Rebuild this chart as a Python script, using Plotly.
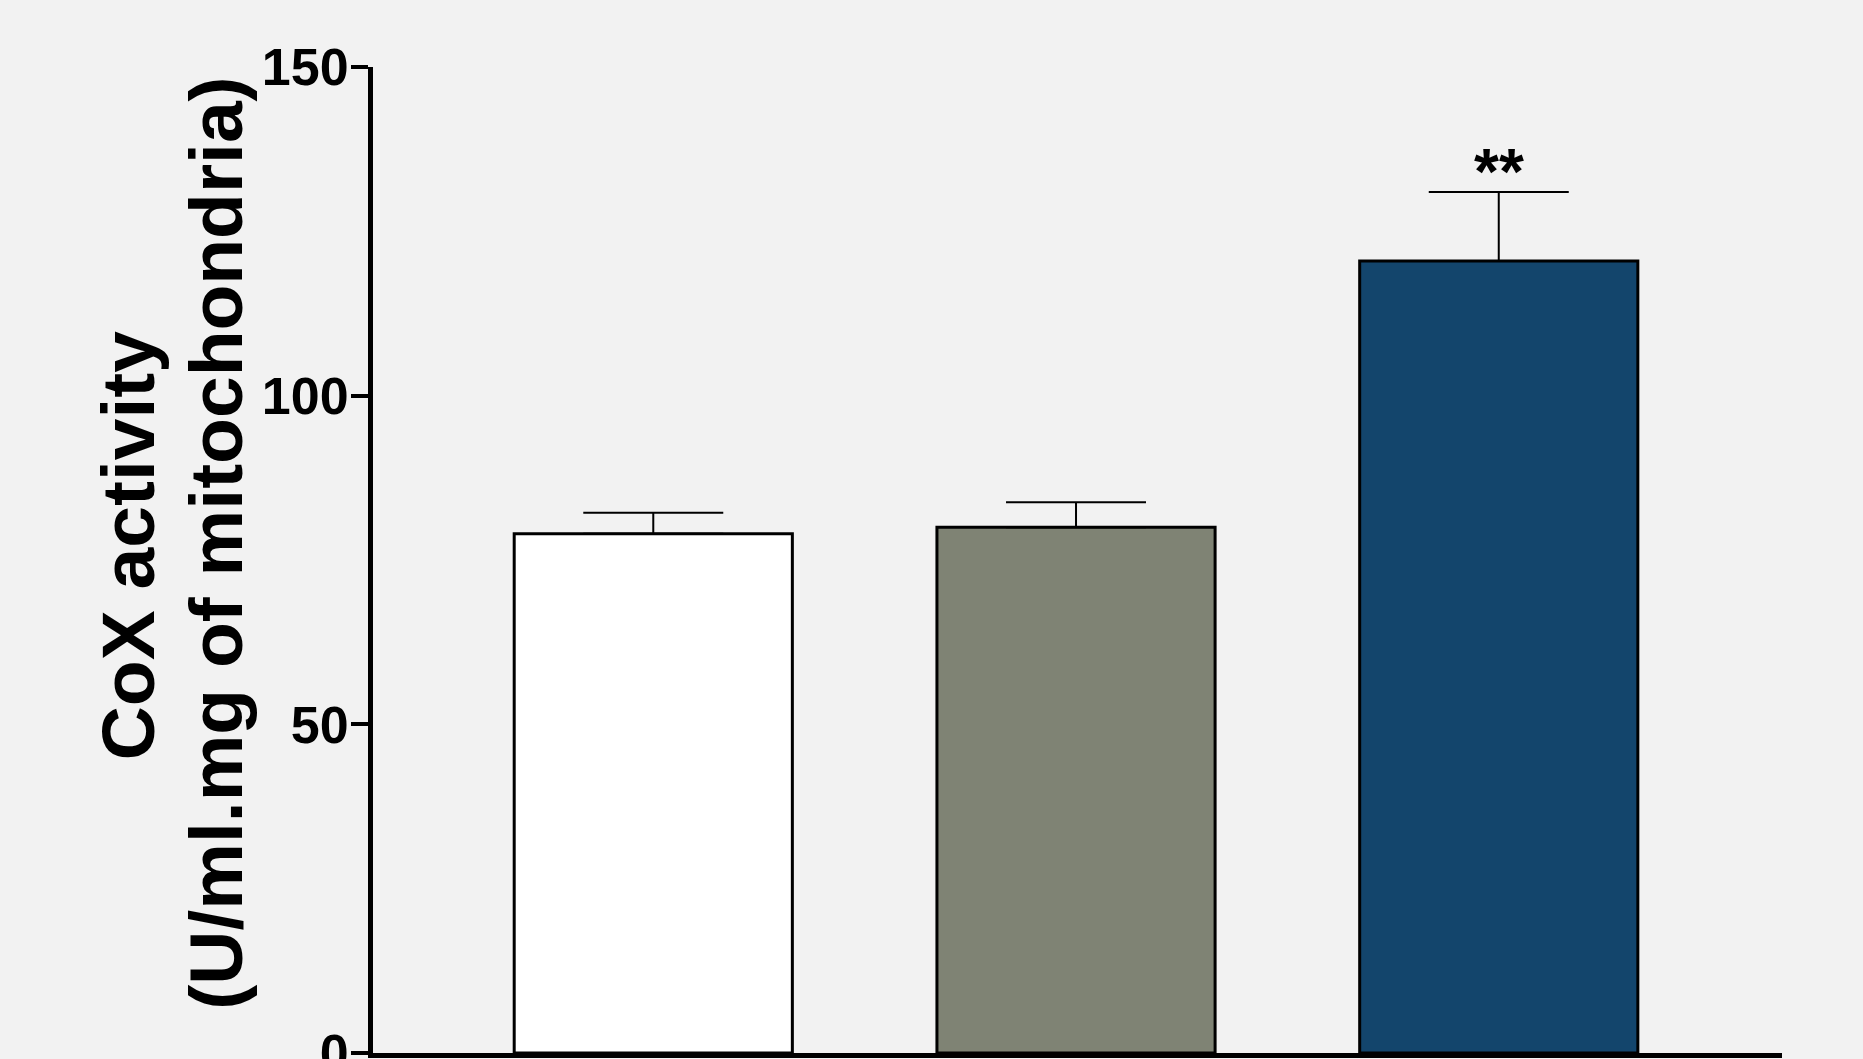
import plotly.graph_objects as go

groups = ["Group 1", "Group 2", "Group 3"]
means = [79.0, 80.0, 120.5]
sems = [3.2, 3.8, 10.5]
bar_colors = ["#FFFFFF", "#7F8374", "#13456C"]
sig_labels = ["", "", "**"]
y_ticks = [0, 50, 100, 150]
title_line1 = "CoX activity"
title_line2 = "(U/ml.mg of mitochondria)"

FONT = "Arial, Liberation Sans, sans-serif"

fig = go.Figure()
fig.add_trace(go.Bar(
    x=list(range(len(groups))),
    y=means,
    width=0.658,
    marker=dict(color=bar_colors, line=dict(color="black", width=3)),
    error_y=dict(type="data", symmetric=False, array=sems,
                 arrayminus=[0] * len(sems), color="black",
                 thickness=2, width=70),
    hoverinfo="skip",
))

for i, (m, s, lab) in enumerate(zip(means, sems, sig_labels)):
    if lab:
        fig.add_annotation(x=i, y=m + s, yshift=20, text=f"<b>{lab}</b>",
                           showarrow=False, xanchor="center", yanchor="middle",
                           font=dict(family=FONT, size=64, color="black"))

fig.add_annotation(xref="paper", yref="paper", x=-0.1738, y=0.515,
                   text=f"<b>{title_line1}</b>", textangle=-90, showarrow=False,
                   xanchor="center", yanchor="middle",
                   font=dict(family=FONT, size=75, color="black"))
fig.add_annotation(xref="paper", yref="paper", x=-0.1111, y=0.517,
                   text=f"<b>{title_line2}</b>", textangle=-90, showarrow=False,
                   xanchor="center", yanchor="middle",
                   font=dict(family=FONT, size=75, color="black"))

fig.update_layout(
    width=1863, height=1059,
    margin=dict(l=373, r=81, t=67, b=6, pad=0, autoexpand=False),
    paper_bgcolor="#F2F2F2", plot_bgcolor="#F2F2F2",
    showlegend=False,
    font=dict(family=FONT, color="black"),
)
fig.update_xaxes(range=[-0.663, 2.670], showticklabels=False, ticks="",
                 showgrid=False, zeroline=False, showline=True,
                 linecolor="black", linewidth=5, automargin=False)
fig.update_yaxes(range=[0, 150], tickvals=y_ticks,
                 ticktext=[f"<b>{v}</b>" for v in y_ticks],
                 ticks="outside", ticklen=17, tickwidth=4, tickcolor="black",
                 tickfont=dict(family=FONT, size=52, color="black"),
                 ticklabelstandoff=-8, ticklabeloverflow="allow",
                 showgrid=False, zeroline=False, showline=True,
                 linecolor="black", linewidth=5, automargin=False)

fig.write_html("out.html")
